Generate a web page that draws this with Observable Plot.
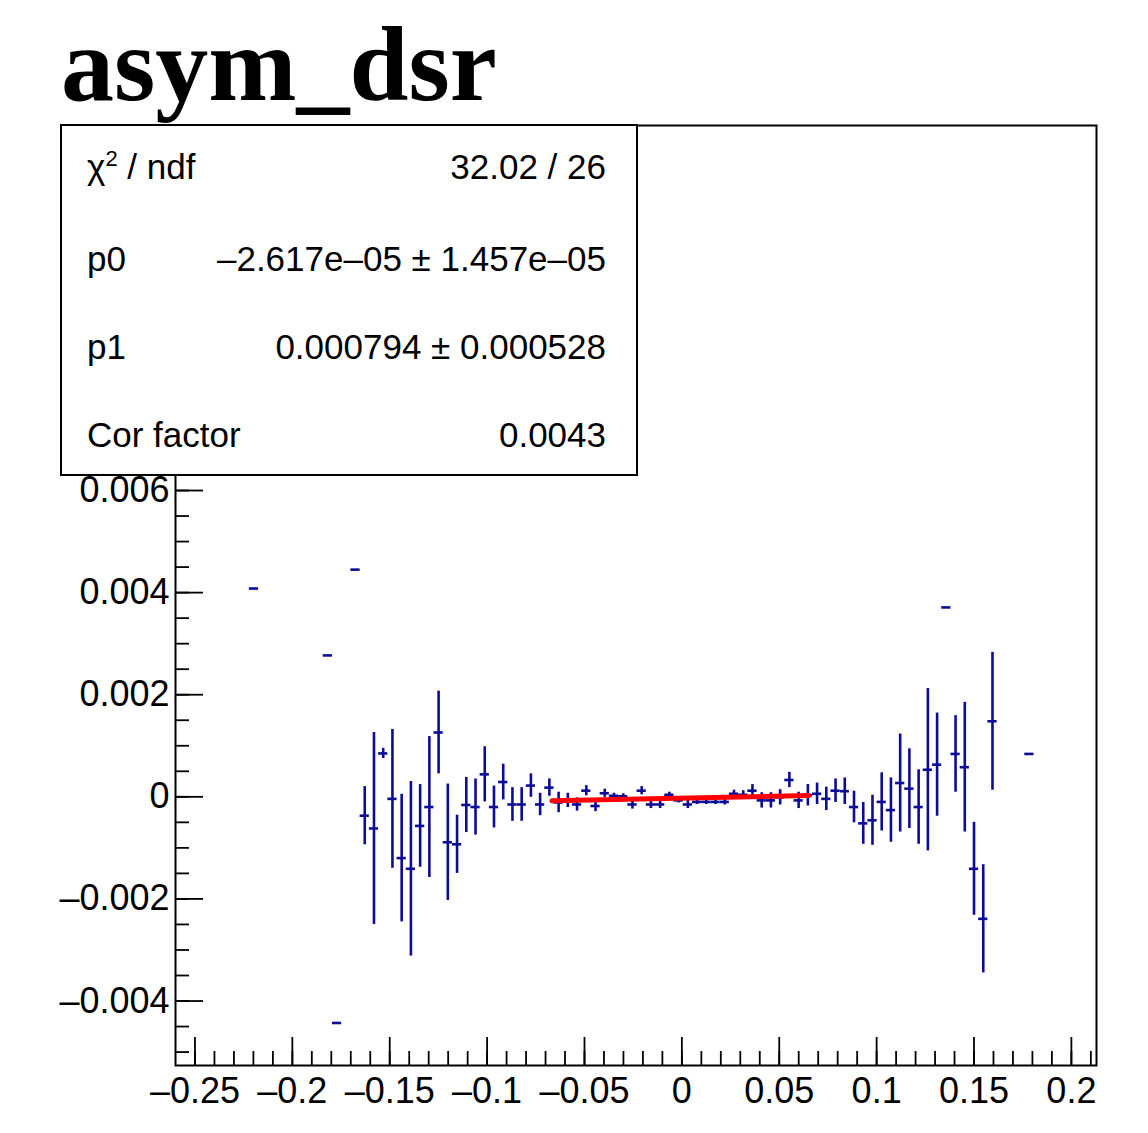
<!DOCTYPE html>
<html><head><meta charset="utf-8">
<script src="https://cdn.jsdelivr.net/npm/d3@7"></script>
<script src="https://cdn.jsdelivr.net/npm/@observablehq/plot@0.6"></script>
<style>
body{margin:0;background:#fff;}
#wrap{position:relative;width:1148px;height:1133px;overflow:hidden;font-family:"Liberation Sans",Arial,sans-serif;background:#fff;}
#chart{position:absolute;left:0;top:0;}
#title{position:absolute;left:61px;top:12px;margin:0;font-family:"Liberation Serif","Times New Roman",serif;font-weight:bold;font-size:106px;line-height:106px;white-space:nowrap;color:#000;}
#stats{position:absolute;left:60px;top:124px;width:578px;height:352px;box-sizing:border-box;border:2px solid #000;background:#fff;}
.row{position:absolute;left:25px;right:30px;height:35px;font-size:35px;line-height:35px;white-space:nowrap;color:#000;}
.row .k{position:absolute;left:0;top:0;}
.row .v{position:absolute;right:0;top:0;}
sup{font-size:22px;vertical-align:0;position:relative;top:-13px;}
</style>
</head><body>
<div id="wrap">
<div id="chart"></div>
<div id="title">asym_dsr</div>
<div id="stats"></div>
</div>
<script>
// ---- data ----
const binX = [-0.21971, -0.18179, -0.17705, -0.16757, -0.16283, -0.15809, -0.15335, -0.14861, -0.14387, -0.13913,
  -0.13439, -0.12965, -0.12491, -0.12017, -0.11543, -0.11069, -0.10595, -0.10121, -0.09647, -0.09173,
  -0.08699, -0.08225, -0.07751, -0.07277, -0.06803, -0.06329, -0.05855, -0.05381, -0.04907, -0.04433,
  -0.03959, -0.03485, -0.03011, -0.02537, -0.02063, -0.01589, -0.01115, -0.00641, -0.00167, 0.00307,
  0.00781, 0.01255, 0.01729, 0.02203, 0.02677, 0.03151, 0.03625, 0.04099, 0.04573, 0.05047,
  0.05521, 0.05995, 0.06469, 0.06943, 0.07417, 0.07891, 0.08365, 0.08839, 0.09313, 0.09787,
  0.10261, 0.10735, 0.11209, 0.11683, 0.12157, 0.12631, 0.13105, 0.13579, 0.14053, 0.14527,
  0.15001, 0.15475, 0.15949, 0.17845];
const binY = [0.00408, 0.00277, -0.00443, 0.00445, -0.00037, -0.00062, 0.00085, -0.00004, -0.00120, -0.00141,
  -0.00057, -0.00020, 0.00126, -0.00089, -0.00093, -0.00016, -0.00020, 0.00044, -0.00020, 0.00029,
  -0.00015, -0.00015, 0.00022, -0.00015, 0.00018, -0.00011, -0.00007, -0.00015, 0.00012, -0.00018,
  0.00007, 0.00002, 0.00001, -0.00015, 0.00012, -0.00015, -0.00015, 0.00004, -0.00007, -0.00015,
  -0.00010, -0.00010, -0.00010, -0.00010, 0.00006, 0.00004, 0.00012, -0.00007, -0.00007, -0.00001,
  0.00033, -0.00007, 0.00003, 0.00006, -0.00004, 0.00012, 0.00011, -0.00020, -0.00052, -0.00046,
  -0.00010, -0.00026, 0.00027, 0.00016, -0.00020, 0.00053, 0.00063, 0.00371, 0.00084, 0.00058,
  -0.00141, -0.00239, 0.00148, 0.00084];
const binErr = [0, 0, 0, 0, 0.00057, 0.00188, 0.00010, 0.00136, 0.00125, 0.00171,
  0.00081, 0.00138, 0.00081, 0.00114, 0.00057, 0.00054, 0.00055, 0.00054, 0.00041, 0.00035,
  0.00033, 0.00033, 0.00023, 0.00022, 0.00017, 0.00020, 0.00014, 0.00013, 0.00010, 0.00011,
  0.00008, 0.00005, 0.00005, 0.00009, 0.00008, 0.00008, 0.00008, 0.00005, 0.00005, 0.00008,
  0.00005, 0.00005, 0.00005, 0.00006, 0.00007, 0.00008, 0.00012, 0.00015, 0.00015, 0.00015,
  0.00015, 0.00016, 0.00021, 0.00021, 0.00023, 0.00023, 0.00026, 0.00031, 0.00041, 0.00049,
  0.00057, 0.00063, 0.00096, 0.00078, 0.00073, 0.00159, 0.00101, 0, 0.00075, 0.00127,
  0.00091, 0.00106, 0.00135, 0];
const binHalfWidth = 0.00237;

// fit: pol1
const fitP0 = -2.617e-05;
const fitP1 = 0.000794;
const fitRange = [-0.0667, 0.0652];

// axis ticks
const xMajor = [-0.25, -0.2, -0.15, -0.1, -0.05, 0, 0.05, 0.1, 0.15, 0.2];
const xMinor = [-0.25,-0.24,-0.23,-0.22,-0.21,-0.2,-0.19,-0.18,-0.17,-0.16,-0.15,-0.14,-0.13,-0.12,-0.11,-0.1,-0.09,-0.08,-0.07,-0.06,-0.05,-0.04,-0.03,-0.02,-0.01,0,0.01,0.02,0.03,0.04,0.05,0.06,0.07,0.08,0.09,0.1,0.11,0.12,0.13,0.14,0.15,0.16,0.17,0.18,0.19,0.2,0.21];
const yMajor = [-0.004, -0.002, 0, 0.002, 0.004, 0.006, 0.008, 0.010, 0.012];
const yMinor = [-0.005,-0.0045,-0.004,-0.0035,-0.003,-0.0025,-0.002,-0.0015,-0.001,-0.0005,0,0.0005,0.001,0.0015,0.002,0.0025,0.003,0.0035,0.004,0.0045,0.005,0.0055,0.006,0.0065,0.007,0.0075,0.008,0.0085,0.009,0.0095,0.010,0.0105,0.011,0.0115,0.012,0.0125,0.013];
const yLabels = [-0.004, -0.002, 0, 0.002, 0.004, 0.006];

const statsRows = [
  ["χ<sup>2</sup> / ndf", "32.02 / 26"],
  ["p0", "–2.617e–05 ± 1.457e–05"],
  ["p1", "0.000794 ± 0.000528"],
  ["Cor factor", "0.0043"]
];

// ---- build ----
const points = binX.map((x, i) => ({x, y: binY[i], e: binErr[i]}));
const fitLine = fitRange.map(x => ({x, y: fitP0 + fitP1 * x}));

const W = 1148, H = 1133, mL = 175, mR = 52, mT = 125, mB = 68;
const innerW = W - mL - mR, innerH = H - mT - mB;
const blue = "#0c0c96";
const fmtMinus = s => s.replace("−", "–");

const chart = Plot.plot({
  width: W, height: H,
  marginLeft: mL, marginRight: mR, marginTop: mT, marginBottom: mB,
  x: {domain: [-0.26, 0.2129], label: null},
  y: {domain: [-0.005263, 0.01315], label: null},
  style: {fontFamily: "Liberation Sans, Arial, sans-serif", fontSize: "36px", background: "white", color: "black"},
  marks: [
    Plot.ruleX(points.filter(d => d.e > 0), {x: "x", y1: d => d.y - d.e, y2: d => d.y + d.e, stroke: blue, strokeWidth: 2.6}),
    Plot.ruleY(points, {y: "y", x1: d => d.x - binHalfWidth, x2: d => d.x + binHalfWidth, stroke: blue, strokeWidth: 2.6}),
    Plot.line(fitLine, {x: "x", y: "y", stroke: "#ff0000", strokeWidth: 5}),
    Plot.ruleX(xMinor, {insetTop: innerH - 14, stroke: "black", strokeWidth: 1.8}),
    Plot.ruleX(xMajor, {insetTop: innerH - 28, stroke: "black", strokeWidth: 1.8}),
    Plot.ruleY(yMinor, {insetRight: innerW - 14, stroke: "black", strokeWidth: 1.8}),
    Plot.ruleY(yMajor, {insetRight: innerW - 28, stroke: "black", strokeWidth: 1.8}),
    Plot.axisX(xMajor, {tickSize: 0, tickPadding: 12, label: null, tickFormat: d => d === 0 ? "0" : fmtMinus(d3.format("~g")(d))}),
    Plot.axisY(yLabels, {tickSize: 0, tickPadding: 6, label: null, tickFormat: d => d === 0 ? "0" : fmtMinus(d3.format(".3f")(d))}),
    Plot.frame({stroke: "black", strokeWidth: 2})
  ]
});
document.getElementById("chart").appendChild(chart);

const stats = document.getElementById("stats");
const rowTops = [23, 115, 203, 291];
statsRows.forEach((r, i) => {
  const row = document.createElement("div");
  row.className = "row";
  row.style.top = rowTops[i] + "px";
  row.innerHTML = `<span class="k">${r[0]}</span><span class="v">${r[1]}</span>`;
  stats.appendChild(row);
});
</script>
</body></html>
